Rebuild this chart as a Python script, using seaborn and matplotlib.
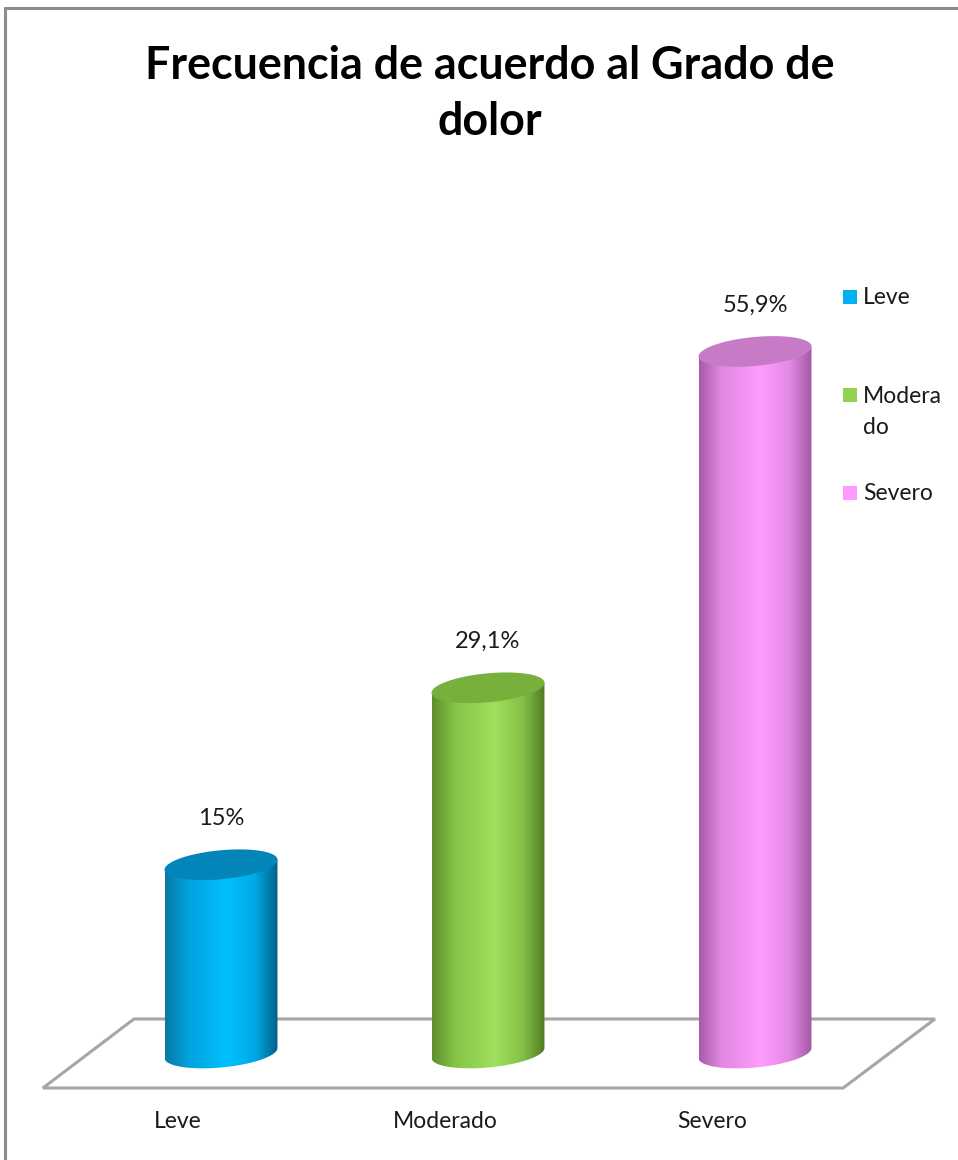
import numpy as np
import matplotlib
matplotlib.use("Agg")
import matplotlib.pyplot as plt
import seaborn as sns
from matplotlib.colors import LinearSegmentedColormap
from matplotlib.patches import Polygon, Rectangle
from matplotlib.lines import Line2D
from matplotlib.transforms import ScaledTranslation

# Datos
categorias = ["Leve", "Moderado", "Severo"]
porcentajes = [15.0, 29.1, 55.9]
etiquetas_leyenda = ["Leve", "Modera\ndo", "Severo"]
colores = ["#00b0f0", "#92d050", "#ff99ff"]

# sombreado del cilindro: borde izq -> centro brillante -> borde der
sombras = [
    ["#0878a4", "#00a2dc", "#00c0ff", "#00a8e4", "#00628a"],
    ["#5f8f2c", "#84c447", "#9fe05c", "#86c248", "#527c24"],
    ["#a85aa8", "#e288e2", "#ff9cff", "#e48ae4", "#a658a6"],
]
tapas = ["#0385ba", "#78b03c", "#c77ac6"]

sns.set_style("white")
plt.rcParams['font.family'] = ['Lato', 'DejaVu Sans']

W, H = 958, 1160
fig = plt.figure(figsize=(W / 100, H / 100), dpi=100)
ax = fig.add_axes([0, 0, 1, 1])

# escala: px por unidad
px_x, px_y = 267.0, 12.55
x0_px, y0_px = 221.0, 1053.0   # centro de "Leve" y linea base (desde arriba)

sns.barplot(x=categorias, y=porcentajes, hue=categorias, palette=colores,
            width=0.423, errorbar=None, legend=False, ax=ax)
barras = sorted(ax.patches, key=lambda r: r.get_x())

ax.set_xlim(-x0_px / px_x, (W - x0_px) / px_x)
ax.set_ylim(-(H - y0_px) / px_y, y0_px / px_y)

# piso en perspectiva
piso = Polygon([(-0.667, -2.79), (-0.326, 2.71), (2.674, 2.71), (2.330, -2.79)],
               closed=True, facecolor="white", edgecolor="#a6a6a6", lw=2.2, zorder=1)
ax.add_patch(piso)

b = 14.5 / px_y     # semi-eje vertical de la elipse
c = 5.0 / px_y      # inclinacion
t = np.linspace(0, 2 * np.pi, 200)
grad = np.linspace(0, 1, 400).reshape(1, -1)

for i, p in enumerate(barras):
    p.set_visible(False)
    a = p.get_width() / 2
    cx = p.get_x() + a
    h = p.get_height()

    tb = np.linspace(np.pi, 2 * np.pi, 100)
    xs = list(cx + a * np.cos(tb)) + [cx + a, cx - a]
    ys = list(b * np.sin(tb) + c * np.cos(tb)) + [h + c, h - c]
    cuerpo = Polygon(np.column_stack([xs, ys]), closed=True, facecolor="none",
                     edgecolor="none", zorder=3)
    ax.add_patch(cuerpo)
    cmap = LinearSegmentedColormap.from_list(f"c{i}", list(zip([0, 0.2, 0.55, 0.8, 1], sombras[i])))
    im = ax.imshow(grad, cmap=cmap, extent=[cx - a, cx + a, -2 * b, h + 2 * b],
                   aspect="auto", zorder=3, interpolation="bilinear")
    im.set_clip_path(cuerpo)

    tapa = Polygon(np.column_stack([cx + a * np.cos(t), h + b * np.sin(t) + c * np.cos(t)]),
                   closed=True, facecolor=tapas[i], edgecolor="none", zorder=4)
    ax.add_patch(tapa)

    texto = f"{porcentajes[i]:g}".replace(".", ",") + "%"
    ax.annotate(texto, (cx, h), xytext=(0, 46 * 0.72), textcoords="offset points",
                ha="center", va="center", fontsize=17, color="#1a1a1a")

    off = ScaledTranslation(-0.43, -0.68, fig.dpi_scale_trans)
    ax.text(cx, 0, categorias[i], transform=ax.transData + off,
            ha="center", va="center", fontsize=16.5, color="#1a1a1a")

ax.set_xlim(-x0_px / px_x, (W - x0_px) / px_x)
ax.set_ylim(-(H - y0_px) / px_y, y0_px / px_y)
ax.set_axis_off()

# titulo
fig.text(490 / W, 1 - 45 / H, "Frecuencia de acuerdo al Grado de\ndolor",
         ha="center", va="top", fontsize=32.3, fontweight="bold",
         linespacing=1.42, color="black")

# leyenda
for i, lab in enumerate(etiquetas_leyenda):
    yc = 297 + 98 * i
    n = lab.count("\n")
    fig.add_artist(Rectangle((843 / W, 1 - (yc + 7) / H), 14 / W, 14 / H,
                             transform=fig.transFigure, facecolor=colores[i], edgecolor="none"))
    fig.text(863 / W, 1 - (yc + 7 + 32 * n) / H, lab, ha="left", va="baseline",
             fontsize=16.5, linespacing=1.6, color="#1a1a1a")

# marco
fig.add_artist(Line2D([5 / W, 5 / W], [0, 1 - 8 / H], color="#8c8c8c", lw=2.2,
                      transform=fig.transFigure))
fig.add_artist(Line2D([5 / W, 1], [1 - 8 / H, 1 - 8 / H], color="#8c8c8c", lw=2.2,
                      transform=fig.transFigure))

fig.savefig("out.png", dpi=100)
